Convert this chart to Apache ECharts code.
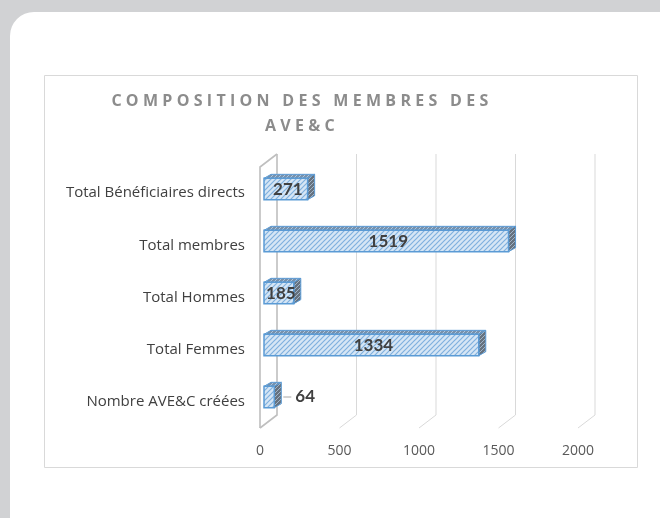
<!DOCTYPE html>
<html>
<head>
<meta charset="utf-8">
<script src="https://cdn.jsdelivr.net/npm/echarts@6/dist/echarts.min.js"></script>
<style>
  body { margin: 0; background: #d1d2d4; }
  #card { position: absolute; left: 10px; top: 12px; width: 700px; height: 560px; background: #fff; border-radius: 24px; }
  #chart { position: absolute; left: 0; top: 0; width: 660px; height: 518px; }
  #title {
    position: absolute; left: 98px; top: 88px; width: 400px; padding-left: 4px;
    text-align: center; font: bold 16px "Open Sans"; line-height: 25px;
    letter-spacing: 4.3px; color: #8c8c8c; white-space: pre;
  }
</style>
</head>
<body>
<div id="card"></div>
<div id="chart"></div>
<div id="title">COMPOSITION DES MEMBRES DES
AVE&amp;C</div>
<script>
// data
const categories = ['Total Bénéficiaires directs', 'Total membres', 'Total Hommes', 'Total Femmes', 'Nombre AVE&C créées'];
const values = [271, 1519, 185, 1334, 64];
const xTicks = [0, 500, 1000, 1500, 2000];

const chartDom = document.getElementById('chart');
const myChart = echarts.init(chartDom, null, { renderer: 'canvas' });

// hatched fills for the 3D bar faces
function hatch(bg, fg, size, lw) {
  const c = document.createElement('canvas');
  c.width = size; c.height = size;
  const ctx = c.getContext('2d');
  ctx.fillStyle = bg;
  ctx.fillRect(0, 0, size, size);
  ctx.strokeStyle = fg;
  ctx.lineWidth = lw;
  ctx.beginPath();
  ctx.moveTo(0, size); ctx.lineTo(size, 0);
  ctx.moveTo(-size / 2, size / 2); ctx.lineTo(size / 2, -size / 2);
  ctx.moveTo(size / 2, size * 1.5); ctx.lineTo(size * 1.5, size / 2);
  ctx.stroke();
  return c;
}
const frontFill = { image: hatch('#d6e6f5', '#7fb0de', 5, 1.2), repeat: 'repeat' };
const topFill = { image: hatch('#7891ab', '#a9c6e3', 4, 1), repeat: 'repeat' };
const sideFill = { image: hatch('#66727f', '#9fb4c9', 4, 1), repeat: 'repeat' };

const depth = [17, -13];

// walls, floor and back gridlines of the 3D frame
function renderFrame(params, api) {
  const cs = params.coordSys;
  const x = api.coord([api.value(0), 0])[0];
  const top = cs.y, bottom = cs.y + cs.height;
  const children = [];
  const isWall = api.value(0) === 0;
  const stroke = isWall ? '#bfbfbf' : '#d9d9d9';
  const lw = isWall ? 1.6 : 1;
  children.push({
    type: 'polyline',
    shape: { points: [[x, bottom], [x + depth[0], bottom + depth[1]], [x + depth[0], top + depth[1]]] },
    style: { stroke: stroke, lineWidth: lw, fill: null }
  });
  if (isWall) {
    children.push({
      type: 'polyline',
      shape: { points: [[x, bottom], [x, top], [x + depth[0], top + depth[1]]] },
      style: { stroke: stroke, lineWidth: lw, fill: null }
    });
  }
  return { type: 'group', children: children };
}

// 3D-looking bars
function renderBar(params, api) {
  const v = api.value(0);
  const idx = api.value(1);
  const start = api.coord([0, idx]);
  const end = api.coord([v, idx]);
  const h = api.size([0, 1])[1] * 0.41;
  const x0 = start[0], x1 = end[0];
  const y = start[1] - h / 2;
  const dx = 7, dy = 4;
  const children = [
    {
      type: 'polygon',
      shape: { points: [[x0, y], [x0 + dx, y - dy], [x1 + dx, y - dy], [x1, y]] },
      style: { fill: topFill, stroke: '#5b9bd5', lineWidth: 1 }
    },
    {
      type: 'polygon',
      shape: { points: [[x1, y], [x1 + dx, y - dy], [x1 + dx, y + h - dy], [x1, y + h]] },
      style: { fill: sideFill, stroke: '#5b9bd5', lineWidth: 1 }
    },
    {
      type: 'rect',
      shape: { x: x0, y: y, width: x1 - x0, height: h },
      style: { fill: frontFill, stroke: '#5b9bd5', lineWidth: 1.5 }
    }
  ];
  const font = 'bold 17px Lato';
  if (x1 - x0 < 20) {
    // value too small: label outside with a short leader line
    children.push({
      type: 'line',
      shape: { x1: x1 + dx + 2, y1: start[1], x2: x1 + dx + 10, y2: start[1] },
      style: { stroke: '#a6a6a6', lineWidth: 1 }
    });
    children.push({
      type: 'text',
      style: { text: String(v), x: x1 + dx + 14, y: start[1], align: 'left', verticalAlign: 'middle', font: font, fill: '#404040' }
    });
  } else {
    children.push({
      type: 'text',
      style: { text: String(v), x: (x0 + x1) / 2 + 2, y: start[1] + 1, align: 'center', verticalAlign: 'middle', font: font, fill: '#404040' }
    });
  }
  return { type: 'group', children: children };
}

const option = {
  animation: false,
  graphic: [{
    type: 'rect',
    shape: { x: 44.5, y: 75.5, width: 593, height: 392 },
    style: { fill: null, stroke: '#d9d9d9', lineWidth: 1 },
    z: -10
  }],
  grid: [
    // front plane: axis labels, wall, floor
    { left: 260, right: 82, top: 167, bottom: 90 },
    // bar plane, slightly inside the depth
    { left: 264, right: 74, top: 163, bottom: 95 }
  ],
  xAxis: [
    {
      gridIndex: 0, type: 'value', min: 0, max: 2000, interval: 500,
      axisLine: { show: false }, axisTick: { show: false }, splitLine: { show: false },
      axisLabel: {
        margin: 16, color: '#595959', fontFamily: 'Open Sans', fontSize: 14,
        formatter: function (v) { return String(v); }
      }
    },
    {
      gridIndex: 1, type: 'value', min: 0, max: 2000, interval: 500,
      show: false, splitLine: { show: false }
    }
  ],
  yAxis: [
    {
      gridIndex: 0, type: 'category', data: categories, inverse: true,
      axisLine: { show: false }, axisTick: { show: false },
      axisLabel: { margin: 15, color: '#404040', fontFamily: 'Open Sans', fontSize: 15 }
    },
    {
      gridIndex: 1, type: 'category', data: categories, inverse: true, show: false
    }
  ],
  series: [
    {
      type: 'custom',
      xAxisIndex: 0, yAxisIndex: 0,
      renderItem: renderFrame,
      data: xTicks.map(function (t) { return [t, 0]; }),
      z: 1,
      silent: true
    },
    {
      type: 'custom',
      xAxisIndex: 1, yAxisIndex: 1,
      renderItem: renderBar,
      data: values.map(function (v, i) { return [v, i]; }),
      z: 5
    }
  ]
};

myChart.setOption(option);
</script>
</body>
</html>
